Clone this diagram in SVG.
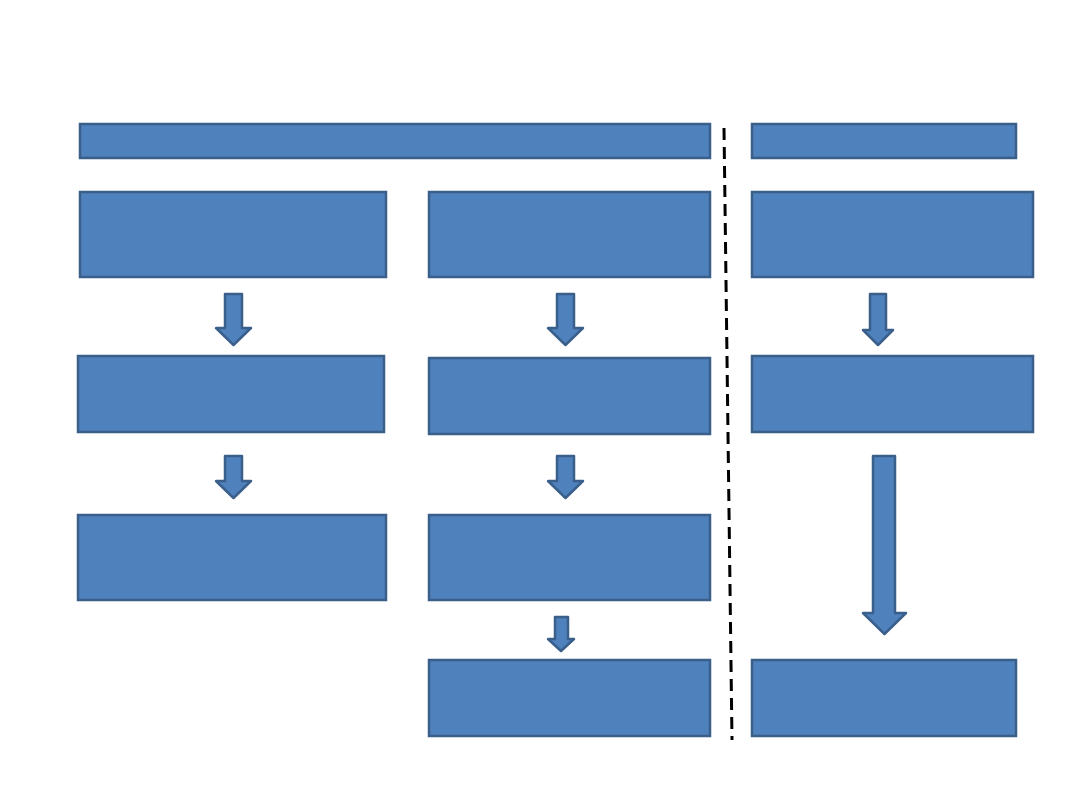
<svg xmlns="http://www.w3.org/2000/svg" width="1080" height="810" viewBox="0 0 1080 810">
<style>
.box{fill:#4F81BD;stroke:#3A5F8B;stroke-width:2.5}
.arr{fill:#4F81BD;stroke:#3A5F8B;stroke-width:2.5;stroke-linejoin:round}
.dash{stroke:#000;stroke-width:3;stroke-dasharray:12 7;fill:none}
</style>
<rect width="1080" height="810" fill="#fff"/>
<g id="n-top-left"><rect class="box" x="80" y="124" width="630" height="34"/></g>
<g id="n-top-right"><rect class="box" x="752" y="124" width="264" height="34"/></g>
<g id="n-a1"><rect class="box" x="80" y="192" width="306" height="85"/></g>
<g id="n-b1"><rect class="box" x="429" y="192" width="281" height="85"/></g>
<g id="n-c1"><rect class="box" x="752" y="192" width="281" height="85"/></g>
<g id="n-a2"><rect class="box" x="78" y="356" width="306" height="76"/></g>
<g id="n-b2"><rect class="box" x="429" y="358" width="281" height="76"/></g>
<g id="n-c2"><rect class="box" x="752" y="356" width="281" height="76"/></g>
<g id="n-a3"><rect class="box" x="78" y="515" width="308" height="85"/></g>
<g id="n-b3"><rect class="box" x="429" y="515" width="281" height="85"/></g>
<g id="n-b4"><rect class="box" x="429" y="660" width="281" height="76"/></g>
<g id="n-c4"><rect class="box" x="752" y="660" width="264" height="76"/></g>
<g id="connectors">
<polygon class="arr" points="225,294 242,294 242,328 251,328 233.5,345 216,328 225,328"/>
<polygon class="arr" points="557,294 574,294 574,328 583,328 565.5,345 548,328 557,328"/>
<polygon class="arr" points="870,294 886,294 886,330 893,330 878,345 863,330 870,330"/>
<polygon class="arr" points="225,456 242,456 242,481 251,481 233.5,498 216,481 225,481"/>
<polygon class="arr" points="557,456 574,456 574,481 583,481 565.5,498 548,481 557,481"/>
<polygon class="arr" points="555,617 568,617 568,639 574,639 561,651 548,639 555,639"/>
<polygon class="arr" points="873,456 895,456 895,613 906,613 884.5,634 863,613 873,613"/>
<line class="dash" x1="724" y1="128" x2="732" y2="740"/>
</g>
</svg>
